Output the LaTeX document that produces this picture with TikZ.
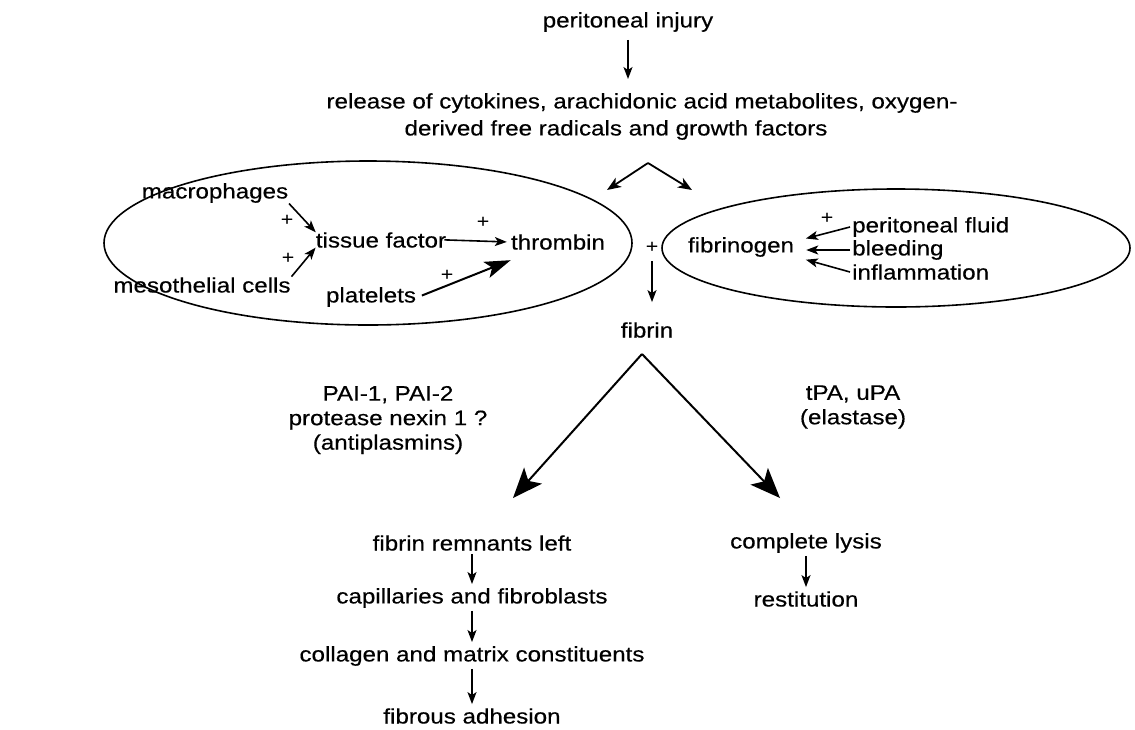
\documentclass[tikz,border=0pt]{standalone}
\usepackage{fontspec}
\setmainfont[FakeStretch=1.15,FakeBold=0.4]{Liberation Sans}
\usetikzlibrary{shapes.geometric,arrows.meta}
\tikzset{
  txt/.style={font=\fontsize{21}{24.5}\selectfont, inner sep=2pt},
  plus/.style={font=\fontsize{18}{20}\selectfont, inner sep=1pt},
  sarr/.style={line width=1.6pt, -{Stealth[length=12pt,width=9pt,inset=3pt]}},
  marr/.style={line width=1.8pt, -{Stealth[length=14pt,width=11pt,inset=4pt]}},
  barr/.style={line width=2pt, -{Stealth[length=26pt,width=17pt,inset=6pt]}},
  varr/.style={line width=2pt, -{Stealth[length=30pt,width=24pt,inset=7pt]}},
  oval/.style={ellipse, draw, line width=1.6pt, inner sep=0pt}
}
\begin{document}
\begin{tikzpicture}[x=1pt,y=-1pt]
\useasboundingbox (0,0) rectangle (1135,729);
% top
\node[txt] (inj) at (628,22) {peritoneal injury};
\node[txt] (rel1) at (642,103) {release of cytokines, arachidonic acid metabolites, oxygen-};
\node[txt] (rel2) at (616,130) {derived free radicals and growth factors};
\draw[sarr, shorten <=6pt, shorten >=12pt] (inj.south) -- (inj.south |- rel1.north);
\coordinate (apex) at (648,163);
\coordinate (bl) at (607,190);
\coordinate (br) at (692,190);
\draw[marr] (apex) -- (bl);
\draw[marr] (apex) -- (br);
% ellipses
\node[oval, minimum width=528pt, minimum height=164pt] (ellL) at (368,243) {};
\node[oval, minimum width=468pt, minimum height=118pt] (ellR) at (896,248) {};
% left ellipse content
\node[txt] (mac) at (215,193) {macrophages};
\node[txt] (tf) at (381,240) {tissue factor};
\node[txt] (meso) at (202,285) {mesothelial cells};
\node[txt] (plt) at (371,297) {platelets};
\node[txt] (thr) at (558,242) {thrombin};
\node[plus] (p1) at (287,220) {+};
\node[plus] (p2) at (288,258) {+};
\node[plus] (p3) at (483,222) {+};
\node[plus] (p4) at (447,275) {+};
\draw[sarr, shorten <=-2pt, shorten >=-3pt] (mac.south east) -- (tf.north west);
\draw[sarr, shorten <=-2pt, shorten >=-3pt] (meso.north east) -- (tf.south west);
\draw[sarr, shorten <=-4pt, shorten >=2pt] (tf.east) -- (thr.west);
\draw[barr, shorten <=4pt, shorten >=-2pt] (plt.east) -- ([yshift=-9pt]thr.south west);
% centre
\node[plus] (p5) at (652,247) {+};
\node[txt] (fib) at (647,330) {fibrin};
\draw[sarr, shorten <=8pt, shorten >=18pt] (p5.south) -- (p5.south |- fib.north);
% right ellipse content
\node[txt] (fbg) at (741,247) {fibrinogen};
\node[txt, anchor=west] (pf) at (850,227) {peritoneal fluid};
\node[txt, anchor=west] (bld) at (850,250) {bleeding};
\node[txt, anchor=west] (inf) at (850,272) {inflammation};
\node[plus] (p6) at (827,218) {+};
\draw[sarr, shorten >=10pt] (pf.west) -- ([yshift=6pt]fbg.east);
\draw[sarr, shorten >=10pt] (bld.west) -- ([yshift=-3pt]fbg.east);
\draw[sarr, shorten >=10pt] (inf.west) -- ([yshift=-10pt]fbg.east);
% V
\coordinate (vtop) at (642,354);
\coordinate (vl) at (513,498);
\coordinate (vr) at (780,498);
\draw[varr] (vtop) -- (vl);
\draw[varr] (vtop) -- (vr);
\node[txt, align=center] (pai) at (388,420) {PAI-1, PAI-2\\protease nexin 1 ?\\(antiplasmins)};
\node[txt, align=center] (tpa) at (853,407) {tPA, uPA\\(elastase)};
% bottom left chain
\node[txt] (frl) at (472,543) {fibrin remnants left};
\node[txt] (cap) at (472,598) {capillaries and fibroblasts};
\node[txt] (col) at (472,656) {collagen and matrix constituents};
\node[txt] (fad) at (472,716) {fibrous adhesion};
\draw[sarr, shorten <=1pt, shorten >=2pt] (frl) -- (cap);
\draw[sarr, shorten <=1pt, shorten >=2pt] (cap) -- (col);
\draw[sarr, shorten <=1pt, shorten >=2pt] (col) -- (fad);
% bottom right chain
\node[txt] (cl) at (806,543) {complete lysis};
\node[txt] (rest) at (806,599) {restitution};
\draw[sarr, shorten <=1pt, shorten >=2pt] (cl.south) -- (cl.south |- rest.north);
\end{tikzpicture}
\end{document}
